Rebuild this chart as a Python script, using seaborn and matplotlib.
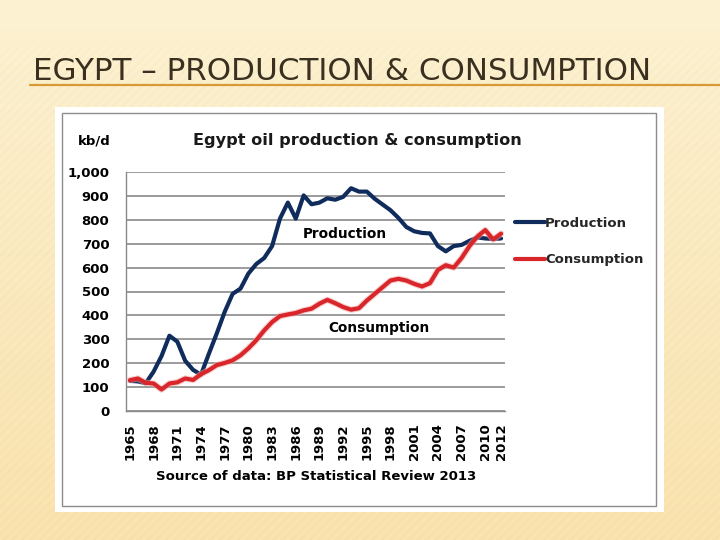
import numpy as np
import pandas as pd
import matplotlib
matplotlib.use("Agg")
import matplotlib.pyplot as plt
import matplotlib.patheffects as pe
from matplotlib.patches import Rectangle
from matplotlib.lines import Line2D
from matplotlib.ticker import FuncFormatter, FixedLocator
import seaborn as sns

# ---------------- data ----------------
years = list(range(1965, 2013))
production = [126, 124, 116, 165, 230, 315, 290, 210, 172, 152,
              240, 325, 415, 490, 512, 575, 615, 640, 690, 805,
              872, 805, 902, 865, 872, 890, 884, 896, 932, 918,
              918, 888, 864, 840, 808, 770, 752, 745, 743, 690,
              668, 690, 695, 712, 726, 722, 720, 722]
consumption = [129, 136, 118, 115, 90, 115, 120, 136, 130, 154,
               171, 192, 201, 212, 233, 262, 296, 337, 372, 397,
               404, 410, 421, 428, 449, 465, 451, 435, 424, 430,
               462, 490, 518, 546, 553, 546, 532, 521, 535, 590,
               610, 600, 640, 690, 730, 757, 718, 742]
series_names = ["Production", "Consumption"]
xtick_years = [1965, 1968, 1971, 1974, 1977, 1980, 1983, 1986, 1989,
               1992, 1995, 1998, 2001, 2004, 2007, 2010, 2012]
yticks = list(range(0, 1001, 100))
slide_title = "EGYPT \u2013 PRODUCTION & CONSUMPTION"
chart_title = "Egypt oil production & consumption"
unit_label = "kb/d"
source_label = "Source of data: BP Statistical Review 2013"

df = pd.DataFrame({
    "year": years * 2,
    "kbd": production + consumption,
    "series": [series_names[0]] * len(years) + [series_names[1]] * len(years),
})

# ---------------- style ----------------
sns.set_style("white")
plt.rcParams["font.family"] = ["DejaVu Sans"]

W, H = 720, 540
fig = plt.figure(figsize=(7.2, 5.4), dpi=100)

# slide background (gradient + faint diagonal stripes)
yy, xx = np.mgrid[0:H, 0:W]
t = yy / H
top = np.array([0xFD, 0xF2, 0xD2]) / 255.0
bot = np.array([0xFA, 0xE3, 0xAE]) / 255.0
img = top[None, None, :] * (1 - t[..., None]) + bot[None, None, :] * t[..., None]
stripe = np.sin(2 * np.pi * (xx + yy) / 9.0)
fade = np.clip((yy - 25) / 40.0, 0, 1)
img = img - (0.012 * (stripe > 0.3) * fade)[..., None]
img = np.clip(img, 0, 1)
bg = fig.add_axes([0, 0, 1, 1], zorder=-5)
bg.imshow(img, aspect="auto", extent=[0, 1, 0, 1], origin="upper")
bg.axis("off")

def fx(px):
    return px / W

def fy(py):
    return 1 - py / H

# slide title and underline
fig.text(fx(33), fy(80), slide_title, fontsize=22.3, color="#3a3020",
         va="baseline", ha="left")
fig.add_artist(Line2D([fx(30), 1.0], [fy(84.5), fy(84.5)], color="#d99a36",
                      lw=1.6, transform=fig.transFigure))

# white chart image panel with grey border
fig.add_artist(Rectangle((fx(55), fy(512)), (664 - 55) / W, (512 - 107) / H,
                         transform=fig.transFigure, facecolor="white",
                         edgecolor="none", zorder=0.5))
fig.add_artist(Rectangle((fx(62), fy(506)), (656 - 62) / W, (506 - 113) / H,
                         transform=fig.transFigure, facecolor="none",
                         edgecolor="#8c8c8c", lw=1.0, zorder=0.6))

# ---------------- main axes ----------------
ax = fig.add_axes([fx(126), fy(411), (505 - 126) / W, (411 - 172) / H], zorder=1)
ax.set_facecolor("white")

navy = "#102c5c"
red = "#d8262a"
sns.lineplot(data=df, x="year", y="kbd", hue="series", hue_order=series_names,
             palette=[navy, red], linewidth=3.0, ax=ax)
for ln in ax.lines:
    ln.set_solid_capstyle("round")
    ln.set_solid_joinstyle("round")
ax.lines[1].set_path_effects([pe.Stroke(linewidth=4.6, foreground="#f3a8a8", alpha=0.55),
                              pe.Normal()])
ax.lines[0].set_zorder(3)
ax.lines[1].set_zorder(4)

ax.set_xlim(1964.5, 2012.5)
ax.set_ylim(0, 1000)
ax.set_xlabel("")
ax.set_ylabel("")

grid_c = "#8a8a8a"
ax.set_yticks(yticks)
ax.yaxis.set_major_formatter(FuncFormatter(lambda v, p: f"{v:,.0f}"))
ax.yaxis.grid(True, color=grid_c, lw=1.2)
ax.xaxis.grid(False)
ax.set_axisbelow(True)
for s in ["top", "right"]:
    ax.spines[s].set_visible(False)
for s in ["left", "bottom"]:
    ax.spines[s].set_color(grid_c)
    ax.spines[s].set_linewidth(1.0)

ax.xaxis.set_major_locator(FixedLocator(xtick_years))
ax.set_xticklabels([str(y) for y in xtick_years])
ax.xaxis.set_minor_locator(FixedLocator(np.arange(1964.5, 2013, 1.0)))
ax.tick_params(axis="x", which="major", length=0, pad=9, labelrotation=90,
               labelsize=9.5, labelcolor="black")
ax.tick_params(axis="x", which="minor", length=5, color=grid_c, width=1)
ax.tick_params(axis="y", which="major", length=5, color=grid_c, width=1,
               pad=7, labelsize=9.5, labelcolor="black")
ax.tick_params(axis="both", direction="out")
for lab in ax.get_xticklabels() + ax.get_yticklabels():
    lab.set_fontweight("bold")

# legend on the right
handles, labels = ax.get_legend_handles_labels()
ax.legend(handles, labels, loc="upper left",
          bbox_to_anchor=(fx(508), fy(210)), bbox_transform=fig.transFigure,
          frameon=False, handlelength=2.3, handletextpad=0.0,
          labelspacing=1.8, borderpad=0,
          prop={"weight": "bold", "size": 9.5})

# inline labels
ax.text(1992.2, 742, "Production", ha="center", va="center",
        fontsize=9.8, fontweight="bold", color="black", zorder=2)
ax.text(1996.5, 346, "Consumption", ha="center", va="center",
        fontsize=9.8, fontweight="bold", color="black", zorder=2)

# texts of the chart image
fig.text(fx(357), fy(140), chart_title, ha="center", va="center",
         fontsize=11.6, fontweight="bold", color="#1a1a1a", zorder=2)
fig.text(fx(94), fy(141), unit_label, ha="center", va="center",
         fontsize=9.5, fontweight="bold", color="black", zorder=2)
fig.text(fx(316), fy(476), source_label, ha="center", va="center",
         fontsize=9.5, fontweight="bold", color="black", zorder=2)

fig.savefig("out.png", dpi=100)
